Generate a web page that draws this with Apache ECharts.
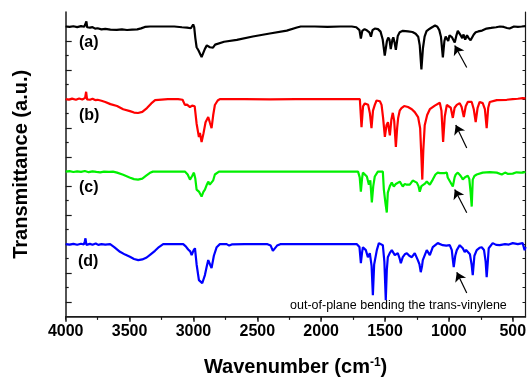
<!DOCTYPE html>
<html>
<head>
<meta charset="utf-8">
<script src="https://cdn.jsdelivr.net/npm/echarts@6/dist/echarts.min.js"></script>
<style>html,body{margin:0;padding:0;background:#fff;}#c{width:527px;height:380px;}</style>
</head>
<body>
<div id="c"></div>
<script>
// Wavenumber tick labels (cm-1)
const majorTicksX = [4000, 3500, 3000, 2500, 2000, 1500, 1000, 500];
const minorTicksX = [3750, 3250, 2750, 2250, 1750, 1250, 750];
const majorTicksY = [1, 3, 5, 7, 9, 11, 13, 15, 17, 19];
const minorTicksY = [2, 4, 6, 8, 10, 12, 14, 16, 18, 20];
const seriesNames = ['(a)', '(b)', '(c)', '(d)'];

// [wavenumber, transmittance (a.u., offset)]
const spectrumA = [
[4000,20.0],[3970,19.97],[3940,20.02],[3910,19.96],[3880,20.03],[3855,19.98],[3845,20.1],[3838,20.35],[3832,19.95],[3810,19.92],[3790,19.96],[3770,19.85],[3750,19.88],[3720,19.8],[3690,19.84],[3650,19.78],[3600,19.77],[3560,19.8],[3520,19.76],[3480,19.79],[3440,19.8],[3410,19.87],[3380,19.97],[3340,20.0],[3250,20.0],[3150,20.0],[3090,19.95],[3050,19.92],[3020,19.88],[3008,19.9],[3002,20.14],[2994,19.95],[2985,19.2],[2975,18.57],[2960,18.35],[2949,18.23],[2936,17.89],[2922,18.2],[2910,18.46],[2895,18.7],[2884,18.8],[2871,18.57],[2860,18.45],[2847,18.55],[2830,18.75],[2818,18.8],[2760,18.95],[2660,19.08],[2535,19.31],[2402,19.52],[2269,19.72],[2190,19.93],[2160,20.0],[2050,20.0],[1950,19.98],[1850,20.0],[1760,20.0],[1725,19.95],[1700,19.75],[1689,19.17],[1678,19.7],[1660,19.82],[1640,19.72],[1622,19.6],[1610,19.3],[1598,19.75],[1580,19.86],[1555,19.82],[1535,19.65],[1518,19.1],[1502,18.0],[1485,19.0],[1475,19.24],[1465,19.1],[1455,18.45],[1442,19.1],[1435,19.25],[1425,18.9],[1415,18.4],[1400,19.35],[1385,19.6],[1360,19.7],[1320,19.66],[1285,19.62],[1260,19.5],[1240,19.3],[1228,18.7],[1215,17.05],[1203,18.5],[1190,19.3],[1175,19.68],[1150,19.85],[1125,19.98],[1108,20.07],[1090,19.98],[1075,19.75],[1062,19.3],[1047,17.87],[1035,19.0],[1025,19.3],[1016,19.2],[1005,19.0],[995,19.4],[985,19.5],[975,19.25],[965,19.35],[954,18.9],[942,19.35],[930,19.7],[918,19.6],[905,19.35],[895,19.2],[885,19.45],[872,19.1],[858,19.4],[845,19.2],[830,19.05],[815,18.95],[805,19.45],[790,19.6],[770,19.66],[740,19.72],[705,19.86],[670,19.9],[630,19.95],[600,20.0],[570,19.97],[545,19.9],[525,19.86],[510,19.95],[490,20.0],[460,19.98],[430,20.0],[400,20.03]
];
const spectrumB = [
[4000,15.0],[3975,14.96],[3950,15.03],[3920,14.95],[3895,15.04],[3870,14.97],[3848,15.08],[3840,15.5],[3833,14.98],[3810,14.95],[3790,15.02],[3770,14.93],[3750,14.95],[3720,14.88],[3690,14.8],[3650,14.65],[3598,14.52],[3550,14.3],[3497,14.17],[3465,14.07],[3434,14.04],[3400,14.12],[3364,14.38],[3330,14.7],[3300,14.92],[3286,15.0],[3200,15.0],[3120,15.0],[3085,14.95],[3067,14.6],[3050,14.62],[3027,14.45],[3010,14.55],[3002,14.66],[2990,14.5],[2975,13.3],[2957,12.38],[2949,12.66],[2936,12.04],[2922,12.6],[2905,13.4],[2884,13.76],[2872,13.4],[2858,13.0],[2845,13.9],[2832,14.59],[2810,14.9],[2793,15.0],[2600,15.0],[2400,14.98],[2200,15.0],[2000,15.0],[1850,15.0],[1740,15.0],[1697,15.0],[1684,13.07],[1672,14.5],[1658,14.7],[1645,14.65],[1632,14.6],[1618,14.0],[1606,13.0],[1594,14.2],[1580,14.6],[1566,14.9],[1554,15.0],[1540,14.85],[1527,14.6],[1515,13.7],[1501,12.4],[1488,13.2],[1477,13.4],[1462,12.5],[1450,13.6],[1439,14.05],[1428,13.5],[1415,11.7],[1405,13.0],[1397,13.7],[1385,14.2],[1371,14.38],[1350,14.52],[1320,14.45],[1290,14.3],[1267,14.1],[1241,13.76],[1225,13.0],[1215,11.0],[1208,9.45],[1200,11.5],[1189,13.2],[1170,13.9],[1149,14.3],[1110,14.55],[1071,14.75],[1058,14.2],[1045,12.04],[1032,13.8],[1016,14.59],[1001,14.72],[985,14.4],[969,13.7],[955,14.4],[938,14.6],[915,14.72],[900,14.45],[883,13.76],[868,14.5],[852,14.8],[821,14.8],[805,14.3],[790,13.42],[775,14.4],[759,14.8],[735,14.72],[718,14.3],[704,13.0],[692,14.4],[680,14.8],[625,14.93],[547,14.95],[500,15.0],[460,15.02],[422,15.07],[400,15.05]
];
const spectrumC = [
[4000,10.0],[3970,10.03],[3940,9.97],[3910,10.02],[3880,9.98],[3850,10.04],[3820,9.96],[3790,10.02],[3760,9.98],[3730,9.95],[3700,10.0],[3660,9.98],[3630,10.0],[3598,9.93],[3550,9.78],[3500,9.6],[3465,9.48],[3434,9.45],[3400,9.52],[3370,9.72],[3340,9.92],[3317,10.0],[3200,10.0],[3100,10.0],[3067,10.0],[3045,9.8],[3027,9.45],[3010,9.7],[2996,9.93],[2985,9.5],[2975,8.76],[2955,8.6],[2936,8.28],[2922,8.6],[2910,8.76],[2895,9.1],[2884,9.31],[2872,9.1],[2858,8.97],[2845,9.4],[2832,9.8],[2800,10.0],[2600,10.0],[2400,10.0],[2200,10.0],[2000,10.0],[1850,10.0],[1740,10.0],[1711,10.0],[1698,9.6],[1689,8.62],[1680,9.5],[1673,9.93],[1658,9.8],[1642,9.66],[1626,9.1],[1615,9.4],[1603,7.87],[1592,9.0],[1580,9.66],[1556,10.0],[1517,10.0],[1509,8.76],[1496,7.8],[1486,7.18],[1478,8.55],[1462,9.0],[1447,9.24],[1431,8.97],[1415,9.15],[1400,9.24],[1384,9.31],[1361,8.97],[1345,9.15],[1329,9.1],[1306,9.1],[1283,9.38],[1251,9.24],[1238,9.0],[1228,8.62],[1215,9.0],[1204,8.97],[1190,9.15],[1173,9.31],[1160,9.2],[1149,9.1],[1126,9.45],[1105,9.8],[1087,9.93],[1070,9.9],[1055,9.8],[1035,9.9],[1016,9.93],[1009,9.59],[990,9.3],[969,8.97],[955,9.6],[946,9.8],[930,9.93],[912,9.75],[899,9.59],[891,9.45],[876,9.59],[862,9.5],[852,9.72],[840,9.5],[830,8.6],[821,7.59],[813,9.45],[800,9.7],[782,9.8],[735,9.93],[680,9.96],[625,9.93],[586,9.8],[560,9.93],[540,9.85],[500,9.86],[470,9.95],[440,9.93],[422,9.93],[400,9.97]
];
const spectrumD = [
[4000,5.0],[3970,4.97],[3940,5.02],[3910,4.96],[3880,5.03],[3858,4.98],[3850,5.2],[3845,5.4],[3838,4.95],[3810,5.02],[3790,4.96],[3765,5.05],[3755,5.15],[3745,4.95],[3720,5.0],[3690,4.97],[3652,5.0],[3620,4.8],[3575,4.47],[3535,4.28],[3497,4.13],[3465,3.98],[3432,3.9],[3400,3.95],[3366,4.08],[3335,4.3],[3301,4.54],[3270,4.8],[3237,5.0],[3150,5.0],[3080,5.0],[3060,4.85],[3041,4.63],[3025,4.5],[3014,4.24],[3000,4.55],[2988,4.72],[2975,3.6],[2957,2.52],[2945,2.6],[2931,2.31],[2920,2.6],[2910,2.87],[2895,3.5],[2884,3.9],[2870,3.6],[2858,3.35],[2840,4.2],[2818,4.79],[2793,5.0],[2740,5.0],[2720,4.9],[2700,4.98],[2600,5.0],[2420,5.0],[2395,4.9],[2378,4.54],[2365,4.65],[2345,4.9],[2320,5.0],[2200,5.0],[2000,5.0],[1850,5.0],[1720,5.0],[1700,4.8],[1689,3.69],[1680,4.4],[1673,4.79],[1650,4.59],[1634,4.1],[1619,4.38],[1605,3.5],[1595,1.49],[1585,3.6],[1564,4.59],[1548,5.07],[1517,4.93],[1505,3.8],[1494,1.14],[1486,3.2],[1478,4.1],[1462,4.4],[1447,4.59],[1423,4.24],[1400,4.38],[1385,4.0],[1376,3.69],[1361,4.1],[1345,4.3],[1329,4.38],[1310,4.2],[1290,4.1],[1267,4.38],[1243,3.9],[1230,3.6],[1220,3.07],[1210,3.5],[1204,3.9],[1173,4.59],[1149,4.24],[1126,4.79],[1087,5.07],[1048,4.93],[1020,4.9],[993,4.93],[977,4.59],[970,4.0],[962,3.42],[950,4.2],[938,4.59],[915,4.93],[891,4.72],[876,4.45],[865,4.6],[852,4.59],[835,4.3],[822,3.6],[813,2.87],[800,4.2],[782,4.59],[760,4.75],[743,4.79],[725,4.6],[712,3.8],[704,2.73],[695,3.8],[688,4.72],[657,5.07],[630,4.95],[602,4.93],[560,5.0],[530,4.97],[500,5.07],[460,5.0],[422,5.07],[407,4.59],[400,4.8]
];
// arrows: [tail, tip] in [wavenumber, transmittance]
const arrows = [
  [[860,17.18],[954,18.69]],
  [[860,11.63],[946,13.21]],
  [[860,7.17],[954,8.76]],
  [[860,1.63],[938,3.07]]
];
const noteText = 'out-of-plane bending the trans-vinylene';

const FONT = "'Liberation Sans', Arial, sans-serif";
const chart = echarts.init(document.getElementById('c'), null, {renderer: 'canvas'});
const colors = ['#000000', '#ff0000', '#00f000', '#0000ff'];
const spectra = [spectrumA, spectrumB, spectrumC, spectrumD];
const AX = '#1a1a1a';

const series = spectra.map((d, i) => ({
  name: seriesNames[i], type: 'line', data: d, showSymbol: false, symbol: 'none',
  lineStyle: {color: colors[i], width: 2.2}, itemStyle: {color: colors[i]},
  silent: true, z: 3
}));
series[0].markLine = {
  silent: true, symbol: ['none', 'arrow'], symbolSize: 9,
  lineStyle: {color: '#000', width: 1.2, type: 'solid'},
  itemStyle: {color: '#000'},
  label: {show: false}, emphasis: {disabled: true},
  data: arrows.map(a => [{coord: a[0]}, {coord: a[1]}])
};

const option = {
  animation: false,
  backgroundColor: '#fff',
  grid: {left: 65.7, right: 1.5, top: 12, bottom: 63.3, containLabel: false, outerBoundsMode: 'none'},
  xAxis: [
    {type: 'value', min: 400, max: 4000, inverse: true, position: 'bottom',
     axisLine: {show: true, lineStyle: {color: AX, width: 1.5}},
     axisTick: {show: true, inside: false, length: 5, customValues: majorTicksX, lineStyle: {color: AX, width: 1.5}},
     axisLabel: {show: true, customValues: majorTicksX, formatter: v => String(v), fontSize: 16, fontWeight: 'bold', color: '#000', fontFamily: FONT, margin: 7},
     splitLine: {show: false},
     name: '{t|Wavenumber (cm}{s|-1}{t|)}', nameLocation: 'middle', nameGap: 40,
     nameTextStyle: {rich: {
       t: {fontSize: 20, fontWeight: 'bold', fontFamily: FONT, color: '#000', lineHeight: 22},
       s: {fontSize: 12, fontWeight: 'bold', fontFamily: FONT, color: '#000', verticalAlign: 'top', lineHeight: 22}
     }}},
    {type: 'value', min: 400, max: 4000, inverse: true, position: 'bottom',
     axisLine: {show: false},
     axisTick: {show: true, inside: false, length: 3, customValues: minorTicksX, lineStyle: {color: AX, width: 1.2}},
     axisLabel: {show: false}, splitLine: {show: false}},
    {type: 'value', min: 400, max: 4000, inverse: true, position: 'top',
     axisLine: {show: true, lineStyle: {color: AX, width: 1.2}},
     axisTick: {show: true, inside: true, length: 3, customValues: majorTicksX.concat(minorTicksX), lineStyle: {color: AX, width: 1}},
     axisLabel: {show: false}, splitLine: {show: false}}
  ],
  yAxis: [
    {type: 'value', min: 0, max: 21, position: 'left',
     axisLine: {show: true, lineStyle: {color: AX, width: 1.5}},
     axisTick: {show: true, inside: true, length: 6, customValues: majorTicksY, lineStyle: {color: AX, width: 1.2}},
     axisLabel: {show: false}, splitLine: {show: false},
     name: 'Transmittance (a.u.)', nameLocation: 'middle', nameGap: 34,
     nameTextStyle: {fontSize: 20, fontWeight: 'bold', fontFamily: FONT, color: '#000'}},
    {type: 'value', min: 0, max: 21, position: 'left',
     axisLine: {show: false},
     axisTick: {show: true, inside: true, length: 3, customValues: minorTicksY, lineStyle: {color: AX, width: 1.2}},
     axisLabel: {show: false}, splitLine: {show: false}},
    {type: 'value', min: 0, max: 21, position: 'right',
     axisLine: {show: true, lineStyle: {color: AX, width: 1.2}},
     axisTick: {show: true, inside: true, length: 3, customValues: majorTicksY.concat(minorTicksY), lineStyle: {color: AX, width: 1}},
     axisLabel: {show: false}, splitLine: {show: false}}
  ],
  series: series,
  graphic: [
    {type: 'text', left: 79, top: 35, style: {text: seriesNames[0], fontSize: 16, fontWeight: 'bold', fontFamily: FONT, fill: '#000'}},
    {type: 'text', left: 79, top: 108, style: {text: seriesNames[1], fontSize: 16, fontWeight: 'bold', fontFamily: FONT, fill: '#000'}},
    {type: 'text', left: 79, top: 180, style: {text: seriesNames[2], fontSize: 16, fontWeight: 'bold', fontFamily: FONT, fill: '#000'}},
    {type: 'text', left: 78, top: 254, style: {text: seriesNames[3], fontSize: 16, fontWeight: 'bold', fontFamily: FONT, fill: '#000'}},
    {type: 'text', left: 290, top: 299, style: {text: noteText, fontSize: 12.5, fontFamily: FONT, fill: '#000'}}
  ]
};
chart.setOption(option);
</script>
</body>
</html>
